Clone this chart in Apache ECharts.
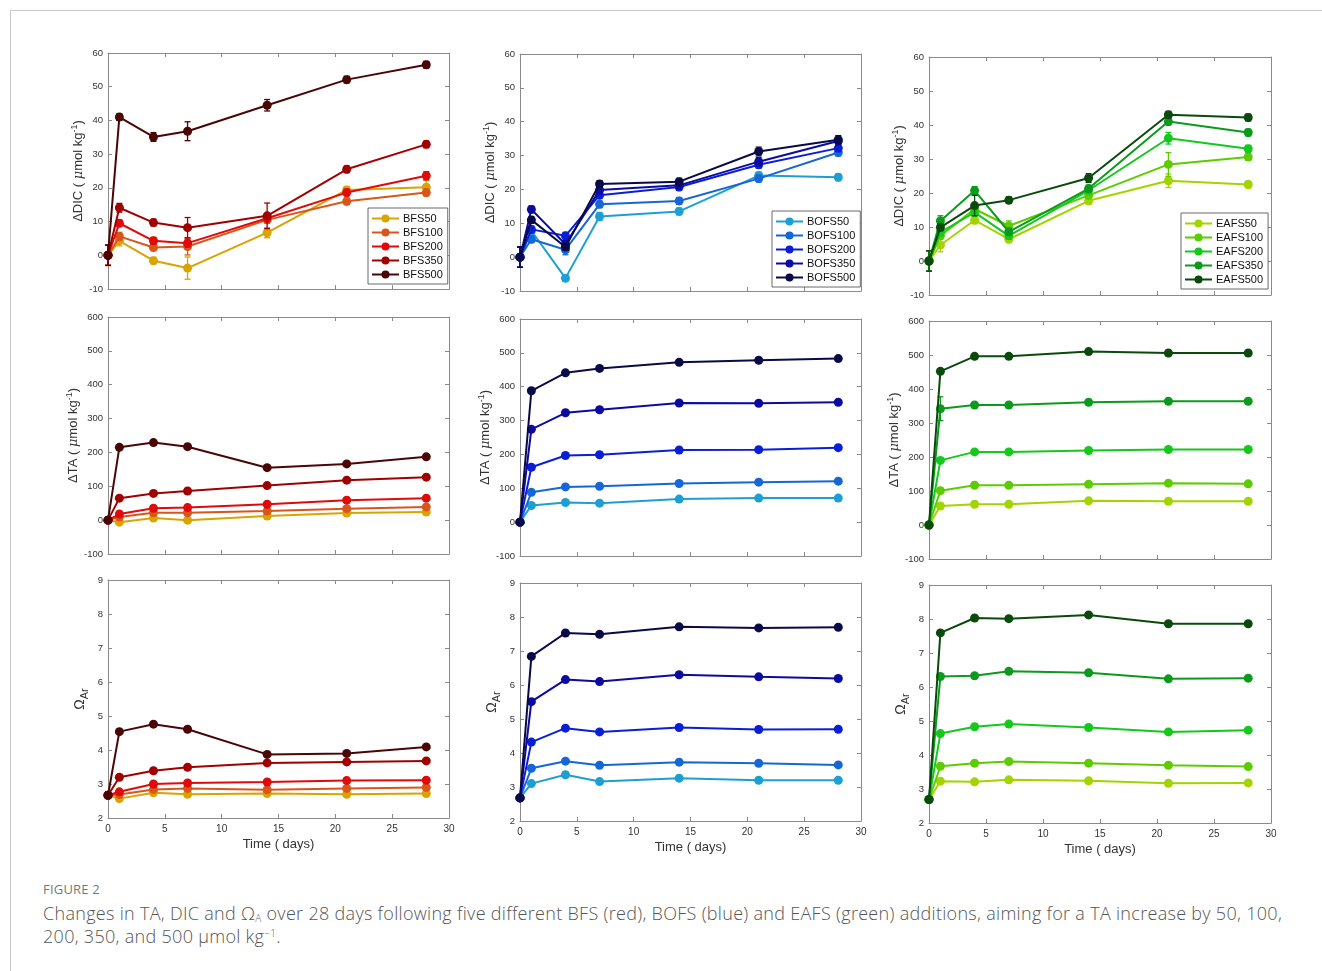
<!DOCTYPE html>
<html>
<head>
<meta charset="utf-8">
<script src="https://cdn.jsdelivr.net/npm/echarts@6/dist/echarts.min.js"></script>
<style>
  html, body { margin:0; padding:0; background:#fff; width:1322px; height:971px; overflow:hidden; }
  #frame { position:absolute; left:10px; top:10px; width:1312px; height:961px; border-top:1px solid #c8c8c8; border-left:1px solid #c8c8c8; }
  #chart { position:absolute; left:0; top:0; width:1322px; height:862px; }
  #figlabel { position:absolute; left:43px; top:880px; font-family:'Open Sans', sans-serif; font-size:13px; color:#777; letter-spacing:0.2px; }
  #caption { position:absolute; left:43px; top:902px; font-family:'Open Sans', sans-serif; font-weight:300; font-size:18px; line-height:23px; letter-spacing:0.3px; color:#555; white-space:nowrap; }
  #caption sub { font-size:10px; vertical-align:-2px; line-height:0; }
  #caption sup { font-size:10px; vertical-align:6px; line-height:0; }
</style>
</head>
<body>
<div id="frame"></div>
<div id="chart"></div>
<div id="figlabel">FIGURE 2</div>
<div id="caption">Changes in TA, DIC and Ω<sub>A</sub> over 28 days following five different BFS (red), BOFS (blue) and EAFS (green) additions, aiming for a TA increase by 50, 100,<br>200, 350, and 500 μmol kg<sup>−1</sup>.</div>
<script>
// ---------- data ----------
const days = [0, 1, 4, 7, 14, 21, 28];
const doses = ['50', '100', '200', '350', '500'];

// ΔDIC (µmol/kg)
const bfsDic50  = [0, 4.3, -1.6, -3.8, 6.7, 19.4, 20.2];
const bfsDic100 = [0, 5.6, 2.3, 2.6, 10.5, 16.0, 18.6];
const bfsDic200 = [0, 9.5, 4.3, 3.6, 11.0, 18.6, 23.6];
const bfsDic350 = [0, 14.1, 9.7, 8.2, 11.7, 25.5, 32.9];
const bfsDic500 = [0, 41.0, 35.1, 36.8, 44.5, 52.1, 56.5];
const bfsDicErr50  = [3, 1.5, 1.0, 3.3, 1.5, 1.0, 2.0];
const bfsDicErr100 = [3, 1.2, 0.8, 2.5, 1.0, 1.0, 1.0];
const bfsDicErr200 = [3, 1.0, 1.0, 1.2, 1.0, 1.0, 1.2];
const bfsDicErr350 = [3, 1.3, 1.0, 3.0, 3.8, 1.0, 1.0];
const bfsDicErr500 = [3, 1.0, 1.3, 2.8, 1.7, 1.0, 1.0];

const bofsDic50  = [0, 7.8, -6.2, 12.0, 13.5, 24.1, 23.6];
const bofsDic100 = [0, 5.3, 2.2, 15.6, 16.6, 23.2, 30.9];
const bofsDic200 = [0, 8.2, 6.3, 18.3, 20.7, 27.3, 32.2];
const bofsDic350 = [0, 14.1, 3.8, 19.8, 21.2, 28.2, 34.3];
const bofsDic500 = [0, 11.0, 3.0, 21.6, 22.3, 31.2, 34.7];
const bofsDicErr50  = [3, 1.0, 1.0, 1.2, 1.0, 1.0, 1.0];
const bofsDicErr100 = [3, 1.0, 1.5, 1.0, 1.0, 1.0, 1.0];
const bofsDicErr200 = [3, 1.0, 1.0, 1.0, 1.0, 1.0, 1.0];
const bofsDicErr350 = [3, 1.0, 1.0, 1.0, 1.0, 1.2, 1.0];
const bofsDicErr500 = [3, 1.0, 1.0, 1.0, 1.0, 1.3, 1.2];

const eafsDic50  = [0, 4.7, 12.0, 6.4, 17.7, 23.6, 22.5];
const eafsDic100 = [0, 7.4, 15.3, 10.3, 19.3, 28.4, 30.6];
const eafsDic200 = [0, 8.4, 14.3, 7.4, 20.8, 36.1, 33.0];
const eafsDic350 = [0, 11.8, 20.7, 8.6, 21.3, 41.0, 37.8];
const eafsDic500 = [0, 9.9, 16.3, 17.9, 24.4, 43.0, 42.2];
const eafsDicErr50  = [3, 2.0, 1.0, 1.0, 1.0, 2.0, 1.0];
const eafsDicErr100 = [3, 1.0, 1.0, 1.5, 1.0, 3.5, 1.0];
const eafsDicErr200 = [3, 1.0, 1.0, 1.0, 1.0, 1.7, 1.0];
const eafsDicErr350 = [3, 1.5, 1.2, 1.0, 1.0, 1.0, 1.0];
const eafsDicErr500 = [3, 1.0, 3.0, 1.0, 1.3, 1.0, 1.0];

// ΔTA (µmol/kg)
const bfsTa50  = [0, -6, 6, 0, 12, 21, 24];
const bfsTa100 = [0, 9, 22, 22, 27, 34, 39];
const bfsTa200 = [0, 18, 35, 37, 47, 59, 65];
const bfsTa350 = [0, 65, 79, 86, 102, 118, 127];
const bfsTa500 = [0, 215, 229, 217, 155, 166, 187];

const bofsTa50  = [0, 49, 58, 56, 68, 71, 71];
const bofsTa100 = [0, 88, 104, 106, 114, 118, 121];
const bofsTa200 = [0, 162, 197, 199, 213, 214, 220];
const bofsTa350 = [0, 274, 323, 332, 352, 351, 354];
const bofsTa500 = [0, 388, 441, 454, 472, 478, 483];

const eafsTa50  = [0, 56, 61, 61, 71, 70, 70];
const eafsTa100 = [0, 101, 117, 117, 120, 123, 121];
const eafsTa200 = [0, 190, 215, 215, 219, 222, 222];
const eafsTa350 = [0, 342, 353, 353, 361, 364, 364];
const eafsTa500 = [0, 452, 496, 496, 510, 506, 506];
const eafsTaErr350 = [0, 35, 0, 0, 0, 0, 0];

// Ω aragonite
const bfsOm50  = [2.67, 2.57, 2.74, 2.70, 2.72, 2.70, 2.72];
const bfsOm100 = [2.67, 2.69, 2.84, 2.87, 2.83, 2.87, 2.90];
const bfsOm200 = [2.67, 2.77, 3.00, 3.03, 3.06, 3.10, 3.11];
const bfsOm350 = [2.67, 3.20, 3.39, 3.49, 3.62, 3.65, 3.68];
const bfsOm500 = [2.67, 4.54, 4.76, 4.61, 3.87, 3.90, 4.09];

const bofsOm50  = [2.68, 3.10, 3.36, 3.16, 3.26, 3.20, 3.20];
const bofsOm100 = [2.68, 3.55, 3.76, 3.64, 3.73, 3.70, 3.65];
const bofsOm200 = [2.68, 4.32, 4.73, 4.62, 4.75, 4.69, 4.70];
const bofsOm350 = [2.68, 5.51, 6.16, 6.10, 6.30, 6.24, 6.19];
const bofsOm500 = [2.68, 6.84, 7.53, 7.49, 7.71, 7.68, 7.70];

const eafsOm50  = [2.69, 3.23, 3.21, 3.27, 3.24, 3.17, 3.18];
const eafsOm100 = [2.69, 3.67, 3.76, 3.81, 3.76, 3.70, 3.66];
const eafsOm200 = [2.69, 4.63, 4.83, 4.91, 4.81, 4.68, 4.73];
const eafsOm350 = [2.69, 6.31, 6.33, 6.46, 6.42, 6.24, 6.26];
const eafsOm500 = [2.69, 7.59, 8.03, 8.01, 8.12, 7.86, 7.86];

const xTicks = [0, 30, 5];
const dicTicks = [-10, 60, 10];
const taTicks = [-100, 600, 100];
const omTicks = [2, 9, 1];

// ---------- styles ----------
const bfsColors  = ['#D9A300', '#D9561A', '#E00A0A', '#A00000', '#4A0505'];
const bofsColors = ['#1CA0D2', '#1566D6', '#0A1ED8', '#0B0BA0', '#0A0A48'];
const eafsColors = ['#A4D400', '#5CCC00', '#14C81C', '#0C9A1C', '#0A4A0C'];

const FONT = 'Liberation Sans';
const AXIS = '#8a8a8a';

const groups = [
  { prefix: 'BFS',  colors: bfsColors,
    dic: [bfsDic50, bfsDic100, bfsDic200, bfsDic350, bfsDic500],
    dicErr: [bfsDicErr50, bfsDicErr100, bfsDicErr200, bfsDicErr350, bfsDicErr500],
    ta: [bfsTa50, bfsTa100, bfsTa200, bfsTa350, bfsTa500], taErr: [null, null, null, null, null],
    om: [bfsOm50, bfsOm100, bfsOm200, bfsOm350, bfsOm500] },
  { prefix: 'BOFS', colors: bofsColors,
    dic: [bofsDic50, bofsDic100, bofsDic200, bofsDic350, bofsDic500],
    dicErr: [bofsDicErr50, bofsDicErr100, bofsDicErr200, bofsDicErr350, bofsDicErr500],
    ta: [bofsTa50, bofsTa100, bofsTa200, bofsTa350, bofsTa500], taErr: [null, null, null, null, null],
    om: [bofsOm50, bofsOm100, bofsOm200, bofsOm350, bofsOm500] },
  { prefix: 'EAFS', colors: eafsColors,
    dic: [eafsDic50, eafsDic100, eafsDic200, eafsDic350, eafsDic500],
    dicErr: [eafsDicErr50, eafsDicErr100, eafsDicErr200, eafsDicErr350, eafsDicErr500],
    ta: [eafsTa50, eafsTa100, eafsTa200, eafsTa350, eafsTa500], taErr: [null, null, null, eafsTaErr350, null],
    om: [eafsOm50, eafsOm100, eafsOm200, eafsOm350, eafsOm500] }
];

// grid boxes [left, top, width, height] per row/column
const gridBoxes = [
  [[108, 53, 341, 236], [520, 54, 341, 237], [929, 57, 342, 238]],
  [[108, 317, 341, 237], [520, 319, 341, 237], [929, 321, 342, 238]],
  [[108, 580, 341, 238], [520, 583, 341, 238], [929, 585, 342, 238]]
];
const legendPos = [[368, 208], [772, 211], [1181, 213]];

const nameRich = {
  n: { fontFamily: FONT, fontSize: 13, color: '#333', lineHeight: 18 },
  i: { fontFamily: 'DejaVu Serif', fontStyle: 'italic', fontSize: 13, color: '#333', lineHeight: 18 },
  sup: { fontFamily: FONT, fontSize: 9, color: '#333', lineHeight: 10, verticalAlign: 'top' },
  om: { fontFamily: FONT, fontSize: 14, color: '#333', lineHeight: 20 },
  sub: { fontFamily: FONT, fontSize: 11, color: '#333', lineHeight: 11, verticalAlign: 'bottom' }
};
const rows = [
  { key: 'dic', errKey: 'dicErr', ticks: dicTicks, name: '{n|ΔDIC ( }{i|μ}{n|mol kg}{sup|-1}{n|)}' },
  { key: 'ta',  errKey: 'taErr',  ticks: taTicks,  name: '{n|ΔTA ( }{i|μ}{n|mol kg}{sup|-1}{n|)}' },
  { key: 'om',  errKey: null,     ticks: omTicks,  name: '{om|Ω}{sub|Ar}' }
];

const grid = [], xAxis = [], yAxis = [], series = [], legend = [];

function errRender(color) {
  return function (params, api) {
    const x = api.value(0), y = api.value(1), e = api.value(2);
    if (!e) return null;
    const lo = api.coord([x, y - e]);
    const hi = api.coord([x, y + e]);
    const c = 3;
    const st = { stroke: color, lineWidth: 1.3 };
    return { type: 'group', children: [
      { type: 'line', shape: { x1: lo[0], y1: lo[1], x2: hi[0], y2: hi[1] }, style: st },
      { type: 'line', shape: { x1: lo[0] - c, y1: lo[1], x2: lo[0] + c, y2: lo[1] }, style: st },
      { type: 'line', shape: { x1: hi[0] - c, y1: hi[1], x2: hi[0] + c, y2: hi[1] }, style: st }
    ]};
  };
}

rows.forEach((row, r) => {
  groups.forEach((g, c) => {
    const gi = grid.length;
    const b = gridBoxes[r][c];
    grid.push({ left: b[0], top: b[1], width: b[2], height: b[3], containLabel: false });
    const bottomRow = r === 2;
    const axCommon = {
      type: 'value', gridIndex: gi,
      axisLine: { show: true, onZero: false, lineStyle: { color: AXIS, width: 1 } },
      axisTick: { show: true, inside: true, length: 4, lineStyle: { color: AXIS } },
      splitLine: { show: false }
    };
    xAxis.push(Object.assign({}, axCommon, {
      position: 'bottom', min: xTicks[0], max: xTicks[1], interval: xTicks[2],
      axisLabel: { show: bottomRow, fontFamily: FONT, fontSize: 10, color: '#333', margin: 6 },
      name: bottomRow ? 'Time ( days)' : '', nameLocation: 'middle', nameGap: 20,
      nameTextStyle: { fontFamily: FONT, fontSize: 13, color: '#333' }
    }));
    xAxis.push(Object.assign({}, axCommon, {
      position: 'top', min: xTicks[0], max: xTicks[1], interval: xTicks[2],
      axisLabel: { show: false }
    }));
    yAxis.push(Object.assign({}, axCommon, {
      position: 'left', min: row.ticks[0], max: row.ticks[1], interval: row.ticks[2],
      axisLabel: { show: true, fontFamily: FONT, fontSize: 9.5, color: '#333', margin: 5 },
      name: row.name, nameLocation: 'middle', nameRotate: 90, nameGap: 18,
      nameTextStyle: { rich: nameRich }
    }));
    yAxis.push(Object.assign({}, axCommon, {
      position: 'right', min: row.ticks[0], max: row.ticks[1], interval: row.ticks[2],
      axisLabel: { show: false }
    }));
    const xi = gi * 2, yi = gi * 2;
    const vals = g[row.key];
    const errs = row.errKey ? g[row.errKey] : null;
    vals.forEach((arr, k) => {
      const name = g.prefix + doses[k];
      const color = g.colors[k];
      if (errs && errs[k]) {
        series.push({
          type: 'custom', name: name + ' err', xAxisIndex: xi, yAxisIndex: yi,
          renderItem: errRender(color),
          data: days.map((d, j) => [d, arr[j], errs[k][j]]),
          encode: { x: 0, y: 1 }, silent: true, z: 2 + k
        });
      }
      series.push({
        type: 'line', name: name, xAxisIndex: xi, yAxisIndex: yi,
        data: days.map((d, j) => [d, arr[j]]),
        symbol: 'circle', symbolSize: 9,
        lineStyle: { color: color, width: 2 },
        itemStyle: { color: color },
        animation: false, z: 2 + k
      });
    });
    if (r === 0) {
      legend.push({
        data: doses.map(d => g.prefix + d),
        orient: 'vertical', left: legendPos[c][0], top: legendPos[c][1],
        itemWidth: 27, itemHeight: 10, itemGap: 3,
        padding: [5, 5, 4, 3],
        borderColor: '#444', borderWidth: 0.8, backgroundColor: '#fff',
        textStyle: { fontFamily: FONT, fontSize: 11, color: '#111', padding: [0, 0, 0, -1] },
        selectedMode: false
      });
    }
  });
});

const chart = echarts.init(document.getElementById('chart'), null, { renderer: 'canvas' });
chart.setOption({ animation: false, grid, xAxis, yAxis, series, legend });
</script>
</body>
</html>
